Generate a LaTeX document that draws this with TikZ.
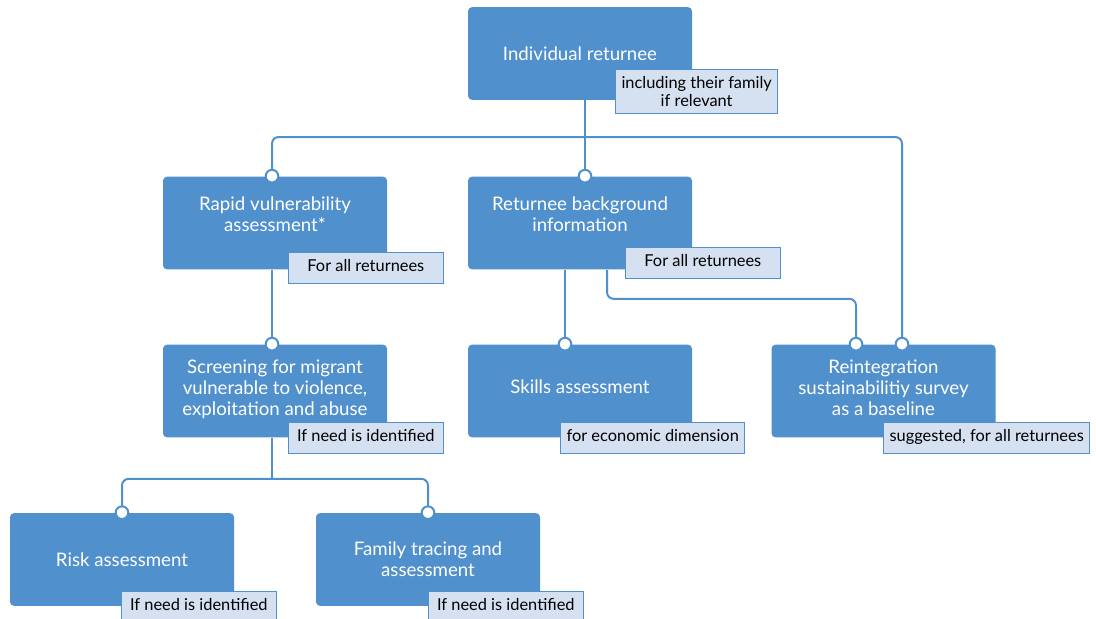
\documentclass[tikz,border=0pt]{standalone}
\usepackage{fontspec}
\setmainfont{Lato}
\definecolor{boxblue}{RGB}{80,144,204}
\definecolor{notefill}{RGB}{213,224,241}
\tikzset{every picture/.style={line width=0.75pt}}

\begin{document}
\begin{tikzpicture}[x=0.75pt,y=0.75pt,yscale=-1,xscale=1,
    box/.style={fill=boxblue, rounded corners=3pt, text=white, align=center, font=\fontsize{14}{15.75}\selectfont, minimum width=168pt, minimum height=69.5pt, inner sep=2pt},
    raised/.style={text depth=14pt},
    notebase/.style={fill=notefill, draw=boxblue, anchor=north west, align=center, font=\fontsize{12.3}{13.5}\selectfont, inner xsep=4.5pt, minimum width=116pt},
    note/.style={notebase, inner ysep=6pt, text height=8.5pt, text depth=2.5pt},
    link/.style={draw=boxblue, line width=1.5pt, rounded corners=5pt},
    dot/.style={circle, draw=boxblue, fill=white, line width=1.5pt, inner sep=0pt, minimum size=9.5pt}]
        \useasboundingbox (0,0) rectangle (1096,618);
        \fill[white] (0,0) rectangle (1096,618);

        %Columns of the connectors
        \coordinate (colA) at (272,0);
        \coordinate (colB) at (585,0);
        \coordinate (colC) at (565,0);
        \coordinate (colD) at (607,0);
        \coordinate (colE) at (856,0);
        \coordinate (colF) at (902,0);
        \coordinate (bus) at (585,137);

        %Boxes
        \node[box] (top) at (580,53.5) {Individual returnee};
        \node[box, raised] (rapid) at (275,223) {Rapid vulnerability\\assessment*};
        \node[box, raised] (bg) at (580,223) {Returnee background\\information};
        \node[box, text depth=5pt] (screen) at (275,391) {Screening for migrant\\vulnerable to violence,\\exploitation and abuse};
        \node[box, text depth=6pt] (skills) at (580,391) {Skills assessment};
        \node[box, text depth=5pt] (survey) at (883.5,391) {Reintegration\\sustainabilitiy survey\\as a baseline};
        \node[box] (risk) at (122,559.5) {Risk assessment};
        \node[box] (family) at (428,559.5) {Family tracing and\\assessment};

        %Straight Lines
        \draw[link] (top.south -| colB) -- (bg.north -| colB);
        \draw[link] (rapid.north -| colA) |- (bus) -| (survey.north -| colF);
        \draw[link] (rapid.south -| colA) -- (screen.north -| colA);
        \draw[link] (bg.south -| colC) -- (skills.north -| colC);
        \draw[link] (bg.south -| colD) -- ++(0,29) -| (survey.north -| colE);
        \draw[link] (screen.south -| colA) -- ++(0,41) coordinate (fork);
        \draw[link] (risk.north) |- (fork) -| (family.north);

        % Text Node
        \node[notebase, inner ysep=5pt] (topnote) at (615,69) {including their family\\if relevant};
        \node[note] (rapidnote) at (288,252) {For all returnees};
        \node[note] (bgnote) at (625,247) {For all returnees};
        \node[note] (screennote) at (288,422) {If need is identified};
        \node[note] (skillsnote) at (560,422) {for economic dimension};
        \node[note] (surveynote) at (883,422) {suggested, for all returnees};
        \node[note] (risknote) at (121,591) {If need is identified};
        \node[note] (familynote) at (428,591) {If need is identified};

        %Joints
        \foreach \p in {bg.north -| colB, rapid.north -| colA, survey.north -| colF, screen.north -| colA, skills.north -| colC, survey.north -| colE, risk.north, family.north}
            \node[dot] at (\p) {};
    \end{tikzpicture}
\end{document}
